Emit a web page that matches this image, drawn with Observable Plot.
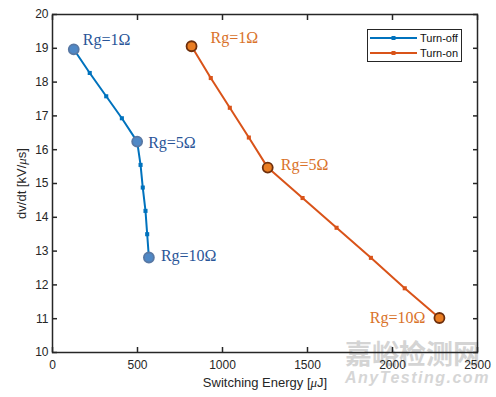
<!DOCTYPE html>
<html><head><meta charset="utf-8">
<script src="https://cdn.jsdelivr.net/npm/d3@7"></script>
<script src="https://cdn.jsdelivr.net/npm/@observablehq/plot@0.6"></script>
<style>
body{margin:0;background:#fff;}
#wrap{position:relative;width:496px;height:397px;overflow:hidden;background:#fff;}
#wrap > svg{position:absolute;left:0;top:0;}
.legend{position:absolute;left:367px;top:29px;width:95px;height:33px;border:1px solid #262626;background:#fff;font:11px "Liberation Sans",Arial,sans-serif;color:#111;box-sizing:border-box;}
.legend .row{position:absolute;left:1px;height:14px;display:flex;align-items:center;}
.legend .row svg{margin-right:2px;position:static;}
.wm1{position:absolute;left:345px;top:333px;font:bold 27px "Noto Sans CJK SC",sans-serif;color:#d4d4d4;letter-spacing:0px;pointer-events:none;}
.wm2{position:absolute;left:345px;top:369px;font:italic bold 16px "Liberation Sans",Arial,sans-serif;color:#d6d6d6;letter-spacing:1.5px;pointer-events:none;}
</style></head><body><div id="wrap"></div>
<script>
const turnOffEnergy = [125, 219, 316, 408, 498, 518, 531, 547, 557, 567];
const turnOffDvdt   = [18.97, 18.27, 17.58, 16.93, 16.24, 15.55, 14.88, 14.19, 13.50, 12.81];
const turnOnEnergy  = [818, 931, 1043, 1155, 1266, 1471, 1671, 1873, 2072, 2276];
const turnOnDvdt    = [19.06, 18.12, 17.24, 16.36, 15.47, 14.57, 13.69, 12.80, 11.90, 11.02];
const rgIndex  = [0, 4, 9];
const rgLabels = ["Rg=1Ω", "Rg=5Ω", "Rg=10Ω"];
const seriesNames = ["Turn-off", "Turn-on"];
const xTicks = [0, 500, 1000, 1500, 2000, 2500];
const yTicks = [10, 11, 12, 13, 14, 15, 16, 17, 18, 19, 20];

const BLUE = "#0072BD", ORANGE = "#D95319";
const offData = turnOffEnergy.map((e, i) => ({e, v: turnOffDvdt[i]}));
const onData  = turnOnEnergy.map((e, i) => ({e, v: turnOnDvdt[i]}));

const offKey = rgIndex.map((k, j) => ({...offData[k], label: rgLabels[j]}));
const onKey  = rgIndex.map((k, j) => ({...onData[k], label: rgLabels[j]}));

// label offsets (styling, in px)
const offOffsets = [[9, -9, "start"], [11, 1, "start"], [12, -2, "start"]];
const onOffsets  = [[19, -8, "start"], [13, -3, "start"], [-14, 0, "end"]];

function labelMarks(rows, offsets, color) {
  return rows.map((r, j) => Plot.text([r], {
    x: "e", y: "v", text: "label", dx: offsets[j][0], dy: offsets[j][1],
    textAnchor: offsets[j][2], fill: color,
    fontFamily: "Liberation Serif, Times New Roman, serif", fontSize: 16
  }));
}

const fmt = d => String(d);

const chart = Plot.plot({
  width: 496, height: 397,
  marginLeft: 52, marginRight: 19, marginTop: 14, marginBottom: 45,
  style: {fontFamily: "'Liberation Sans', Arial, sans-serif", fontSize: "12px", color: "#262626", background: "transparent", overflow: "visible"},
  x: {domain: [0, 2500]},
  y: {domain: [10, 20]},
  marks: [
    Plot.frame({stroke: "#262626", strokeWidth: 1.5}),
    Plot.axisX(xTicks, {anchor: "bottom", tickSize: -5, tickPadding: 13, strokeWidth: 1.5, tickFormat: fmt,
      label: "Switching Energy [μJ]", labelAnchor: "center", labelOffset: 34, labelArrow: false}),
    Plot.axisX(xTicks, {anchor: "top", tickSize: -5, strokeWidth: 1.5, fill: "none", label: null}),
    Plot.axisY(yTicks, {anchor: "left", tickSize: -5, tickPadding: 9, strokeWidth: 1.5, tickFormat: fmt,
      label: "dv/dt [kV/μs]", labelAnchor: "center", labelOffset: 36, labelArrow: false}),
    Plot.axisY(yTicks, {anchor: "right", tickSize: -5, strokeWidth: 1.5, fill: "none", label: null}),
    Plot.line(offData, {x: "e", y: "v", stroke: BLUE, strokeWidth: 2}),
    Plot.line(onData, {x: "e", y: "v", stroke: ORANGE, strokeWidth: 2}),
    Plot.dot(offData, {x: "e", y: "v", symbol: "square", r: 2.3, fill: BLUE}),
    Plot.dot(onData, {x: "e", y: "v", symbol: "square", r: 2.3, fill: ORANGE}),
    Plot.dot(offKey, {x: "e", y: "v", r: 5, fill: "#4f88c6", stroke: "#5878a4", strokeWidth: 1.8}),
    Plot.dot(onKey, {x: "e", y: "v", r: 5, fill: "#ea7d22", stroke: "#6e2f0c", strokeWidth: 1.8}),
    ...labelMarks(offKey, offOffsets, "#2a5598"),
    ...labelMarks(onKey, onOffsets, "#d9722a")
  ]
});

// italic mu in axis labels
d3.select(chart).selectAll('g[aria-label="x-axis label"] text, g[aria-label="y-axis label"] text').each(function() {
  const t = d3.select(this);
  const s = t.text();
  const i = s.indexOf("μ");
  if (i < 0) return;
  t.text(null);
  t.append("tspan").text(s.slice(0, i));
  t.append("tspan").attr("font-style", "italic").attr("font-family", "Liberation Serif, serif").text("μ");
  t.append("tspan").text(s.slice(i + 1));
});
d3.select(chart).selectAll('g[aria-label="x-axis label"], g[aria-label="y-axis label"]').attr("font-size", 13);

const wrap = document.getElementById("wrap");
const wm1 = document.createElement("div"); wm1.className = "wm1"; wm1.textContent = "嘉峪检测网"; wrap.appendChild(wm1);
const wm2 = document.createElement("div"); wm2.className = "wm2"; wm2.textContent = "AnyTesting.com"; wrap.appendChild(wm2);
wrap.appendChild(chart);

const legend = document.createElement("div");
legend.className = "legend";
[BLUE, ORANGE].forEach((c, i) => {
  const row = document.createElement("div");
  row.className = "row";
  row.style.top = (i === 0 ? 1 : 16) + "px";
  row.innerHTML = `<svg width="49" height="10"><line x1="1" x2="48" y1="5" y2="5" stroke="${c}" stroke-width="2"/><rect x="22.5" y="3" width="4" height="4" fill="${c}"/></svg><span>${seriesNames[i]}</span>`;
  legend.appendChild(row);
});
wrap.appendChild(legend);
</script>
</body></html>
